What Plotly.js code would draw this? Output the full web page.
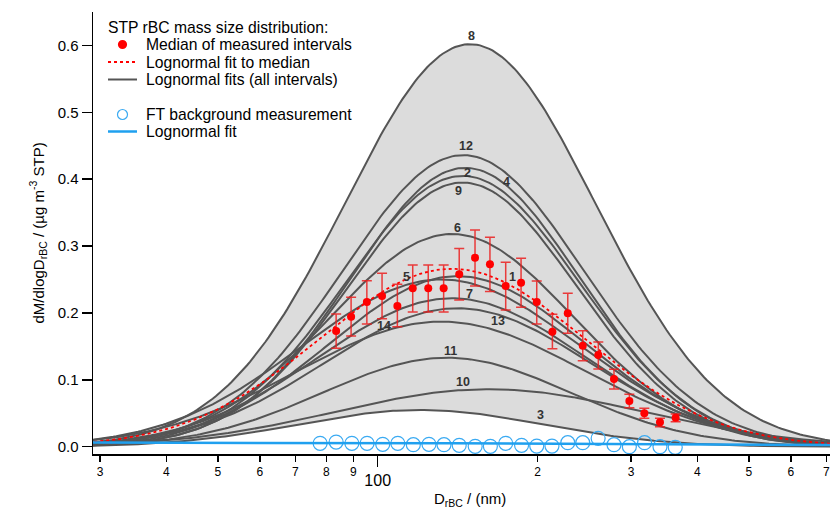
<!DOCTYPE html>
<html><head><meta charset="utf-8">
<script src="https://cdn.plot.ly/plotly-3.0.1.min.js"></script>
<style>html,body{margin:0;padding:0;background:#fff}#chart{width:830px;height:509px}</style>
</head><body><div id="chart"></div>
<script>
// ---- Lognormal fit parameters of the 14 intervals ----
const fitIds    = ['1','2','3','4','5','6','7','8','9','10','11','12','13','14'];
const fitPeak   = [0.255,0.405,0.055,0.417,0.250,0.318,0.222,0.602,0.395,0.086,0.133,0.436,0.207,0.187];
const fitModeD  = [141.3,144.5,120.2,146.2,131.8,138.0,138.0,149.3,144.5,162.2,134.9,144.9,141.3,131.8];
const fitSigmaG = [1.738,1.660,1.698,1.641,1.820,1.698,1.778,1.718,1.641,1.950,1.714,1.683,1.778,1.862];

// ---- Median of measured intervals ----
const medianD   = [83.5,89.1,95.4,101.9,108.9,116.4,124.5,133.1,142.4,152.5,162.7,174.2,186.2,199.3,213.3,228.0,243.3,260.3,278.6,297.8,317.8,340.1,364.0];
const medianVal = [0.1731,0.1945,0.2165,0.2254,0.2105,0.2369,0.2369,0.2369,0.2579,0.2827,0.2728,0.2404,0.2453,0.2165,0.1720,0.1996,0.1511,0.1372,0.1013,0.0684,0.0500,0.0365,0.0434];
const medianErrUp   = [0.0254,0.0290,0.0318,0.0340,0.0324,0.0349,0.0349,0.0349,0.0383,0.0415,0.0404,0.0354,0.0365,0.0314,0.0261,0.0299,0.0224,0.0194,0.0145,0.0100,0.0074,0.0060,0.0055];
const medianErrDown = [0.0259,0.0289,0.0330,0.0339,0.0310,0.0354,0.0354,0.0354,0.0385,0.0423,0.0409,0.0359,0.0368,0.0330,0.0254,0.0300,0.0225,0.0210,0.0150,0.0101,0.0075,0.0066,0.0060];
// Lognormal fit to median
const medFitPeak = 0.266, medFitModeD = 138.0, medFitSigmaG = 1.778;

// ---- FT background measurement ----
const bgD   = [77.9,83.5,89.4,95.5,102.2,109.1,116.7,124.9,133.3,142.4,152.6,163.0,174.2,186.6,199.3,212.9,228.0,243.3,260.1,278.6,297.8,318.1,340.1,363.4];
const bgVal = [0.0051,0.0070,0.0051,0.0051,0.0036,0.0051,0.0030,0.0036,0.0030,0.0021,0.0006,0.0006,0.0051,0.0021,0.0010,0.0010,0.0060,0.0060,0.0126,0.0030,0.0000,0.0060,0.0000,-0.0009];
const bgFitPeak = 0.0062, bgFitModeD = 32.0, bgFitSigmaG = 10.0;

// ---- Axis ticks ----
const minorTickVals = [30,40,50,60,70,80,90,200,300,400,500,600,700];
const minorTickText = ['3','4','5','6','7','8','9','2','3','4','5','6','7'];
const yTickVals = [0,0.1,0.2,0.3,0.4,0.5,0.6];

// ---- Curve labels (anchor in data coordinates) ----
const labelIds = ['8','12','2','4','9','6','5','1','7','14','13','11','10','3'];
const labelD   = [150.5,146.8,147.8,174.9,141.9,141.5,113.4,179.2,149.2,102.9,168.7,136.9,145.0,203.0];
const labelVal = [0.6148,0.4503,0.4098,0.3955,0.3825,0.3267,0.2534,0.2543,0.2284,0.1806,0.1880,0.1429,0.0972,0.0474];

// ---- Legend texts ----
const legendTitle = 'STP rBC mass size distribution:';
const legendNames = ['Median of measured intervals','Lognormal fit to median','Lognormal fits (all intervals)','FT background measurement','Lognormal fit'];

// evaluation grid for the fitted lognormal functions
const gridD = [];
for (let i = 0; i <= 240; i++) gridD.push(Math.pow(10, 1.455 + i * (2.86 - 1.455) / 240));
function lognormal(A, Dm, sg) {
  const ls = Math.log(sg);
  return gridD.map(d => { const z = Math.log(d / Dm) / ls; return A * Math.exp(-0.5 * z * z); });
}

const curves = fitIds.map((id, k) => lognormal(fitPeak[k], fitModeD[k], fitSigmaG[k]));
const envLow  = gridD.map((_, i) => Math.min(...curves.map(c => c[i])));
const envHigh = gridD.map((_, i) => Math.max(...curves.map(c => c[i])));

const GREY = '#555555', RED = '#ff0000', BLUE = '#1fa0ef', BLUEC = '#3aaaf2';
const traces = [];
traces.push({x: gridD, y: envLow, mode: 'lines', line: {width: 0, color: 'rgba(0,0,0,0)'}, hoverinfo: 'skip'});
traces.push({x: gridD, y: envHigh, mode: 'lines', line: {width: 0, color: 'rgba(0,0,0,0)'}, fill: 'tonexty', fillcolor: '#dcdcdc', hoverinfo: 'skip'});
curves.forEach((c, k) => {
  traces.push({x: gridD, y: c, mode: 'lines', line: {color: GREY, width: 2}, name: 'Interval ' + fitIds[k]});
});
traces.push({x: gridD, y: lognormal(bgFitPeak, bgFitModeD, bgFitSigmaG), xaxis: 'x2', mode: 'lines',
  line: {color: BLUE, width: 2.5}, name: legendNames[4]});
traces.push({x: bgD, y: bgVal, mode: 'markers', marker: {symbol: 'circle-open', size: 14, color: BLUEC, line: {width: 1.2}},
  name: legendNames[3]});
traces.push({x: gridD, y: lognormal(medFitPeak, medFitModeD, medFitSigmaG), mode: 'lines',
  line: {color: RED, width: 1.8, dash: 'dot'}, name: legendNames[1]});
traces.push({x: medianD, y: medianVal, mode: 'markers', marker: {color: RED, size: 8},
  error_y: {type: 'data', symmetric: false, array: medianErrUp, arrayminus: medianErrDown, color: 'rgba(235,30,30,0.85)', thickness: 1.5, width: 5},
  name: legendNames[0]});

// helpers: pixel position inside the plot frame -> paper coordinates
const PL = 93, PW = 737, PB = 454, PH = 442;
const px = p => (p - PL) / PW, py = p => (PB - p) / PH;
const FONT = 'Liberation Sans, Arial, sans-serif';

const annotations = labelIds.map((t, k) => ({x: Math.log10(labelD[k]), y: labelVal[k], xref: 'x', yref: 'y', text: '<b>' + t + '</b>',
  showarrow: false, font: {family: FONT, size: 12.5, color: '#333'}}));
annotations.push({x: px(470), xref: 'paper', y: 0, yref: 'paper', text: 'D<sub>rBC</sub> / (nm)', showarrow: false,
  font: {size: 15, color: '#000'}, yshift: -57});
annotations.push({x: px(25), xref: 'paper', y: 0.5, yref: 'paper', text: 'dM/dlogD<sub>rBC</sub> / (µg m<sup>-3</sup> STP)', showarrow: false,
  textangle: -90, font: {size: 15, color: '#000'}});

// legend (drawn by hand for the tight Igor-style spacing)
const legRowsY = [44.5, 62, 79.5, 114.5, 131.5];
annotations.push({x: px(106), y: py(27.5), xref: 'paper', yref: 'paper', xanchor: 'left', yanchor: 'middle', showarrow: false,
  text: legendTitle, font: {size: 15.7, color: '#000'}});
legendNames.forEach((n, k) => annotations.push({x: px(144), y: py(legRowsY[k]), xref: 'paper', yref: 'paper', xanchor: 'left', yanchor: 'middle',
  showarrow: false, text: n, font: {size: 15.7, color: '#000'}}));
const shapes = [
  {type: 'circle', xref: 'paper', yref: 'paper', xsizemode: 'pixel', ysizemode: 'pixel', xanchor: px(122.5), yanchor: py(legRowsY[0]),
    x0: -4.6, x1: 4.6, y0: -4.6, y1: 4.6, fillcolor: RED, line: {width: 0}},
  {type: 'line', xref: 'paper', yref: 'paper', x0: px(108), x1: px(137), y0: py(legRowsY[1]), y1: py(legRowsY[1]), line: {color: RED, width: 1.8, dash: 'dot'}},
  {type: 'line', xref: 'paper', yref: 'paper', x0: px(108), x1: px(137), y0: py(legRowsY[2]), y1: py(legRowsY[2]), line: {color: GREY, width: 2}},
  {type: 'circle', xref: 'paper', yref: 'paper', xsizemode: 'pixel', ysizemode: 'pixel', xanchor: px(122.5), yanchor: py(legRowsY[3]),
    x0: -5, x1: 5, y0: -5, y1: 5, fillcolor: 'rgba(0,0,0,0)', line: {color: BLUEC, width: 1.2}},
  {type: 'line', xref: 'paper', yref: 'paper', x0: px(108), x1: px(137), y0: py(legRowsY[4]), y1: py(legRowsY[4]), line: {color: BLUE, width: 2.5}}
];

const xr = [1.4638, 2.8518];
const layout = {
  width: 830, height: 509,
  margin: {l: 93, r: 0, t: 12, b: 55},
  paper_bgcolor: '#fff', plot_bgcolor: '#fff',
  font: {family: FONT, color: '#000'},
  showlegend: false,
  xaxis: {type: 'log', range: xr, showgrid: false, zeroline: false, showline: true, linecolor: '#000', linewidth: 1.5,
    ticks: 'outside', ticklen: 11, tickwidth: 1.5, tickcolor: '#000', tickvals: [100], ticktext: ['100'],
    tickfont: {size: 16}, ticklabelstandoff: 0},
  xaxis2: {type: 'log', range: xr, overlaying: 'x', anchor: 'y', side: 'bottom', showgrid: false, zeroline: false, showline: false,
    ticks: 'outside', ticklen: 7, tickwidth: 1.5, tickcolor: '#000', tickvals: minorTickVals, ticktext: minorTickText,
    tickfont: {size: 12}, ticklabeloverflow: 'allow'},
  yaxis: {range: [-0.0109, 0.650], showgrid: false, zeroline: false, showline: true, linecolor: '#000', linewidth: 1.5,
    ticks: 'outside', ticklen: 10, tickwidth: 1.5, tickcolor: '#000', tickvals: yTickVals, tickformat: '.1f', tickfont: {size: 15}},
  annotations: annotations,
  shapes: shapes
};
Plotly.newPlot('chart', traces, layout, {displayModeBar: false, staticPlot: true});
</script></body></html>
